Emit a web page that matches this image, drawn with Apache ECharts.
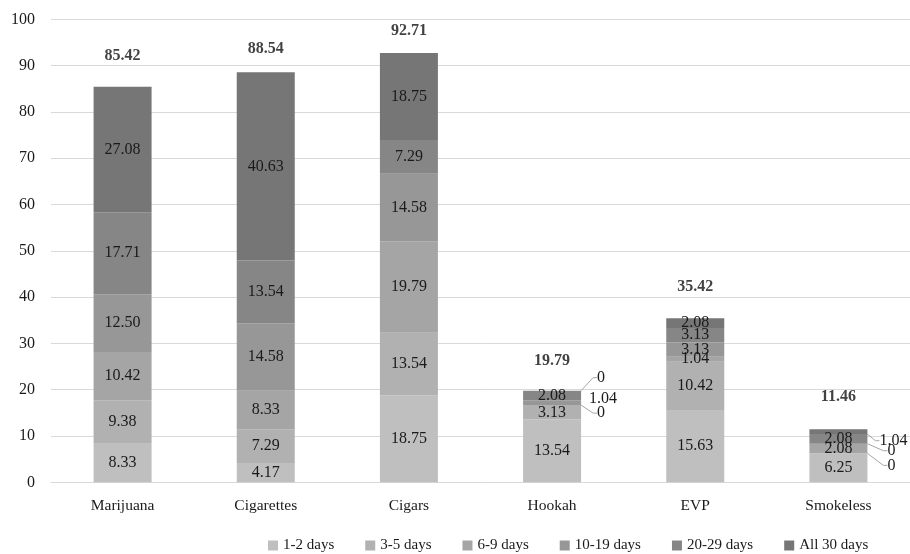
<!DOCTYPE html>
<html>
<head>
<meta charset="utf-8">
<script src="https://cdn.jsdelivr.net/npm/echarts@6/dist/echarts.min.js"></script>
<style>html,body{margin:0;padding:0;background:#fff}#c{width:910px;height:554px}</style>
</head>
<body>
<div id="c"></div>
<script>
var categories = ['Marijuana', 'Cigarettes', 'Cigars', 'Hookah', 'EVP', 'Smokeless'];
var seriesNames = ['1-2 days', '3-5 days', '6-9 days', '10-19 days', '20-29 days', 'All 30 days'];
var d12 = [8.33, 4.17, 18.75, 13.54, 15.63, 6.25];
var d35 = [9.38, 7.29, 13.54, 3.13, 10.42, 0];
var d69 = [10.42, 8.33, 19.79, 0, 1.04, 2.08];
var d1019 = [12.50, 14.58, 14.58, 1.04, 3.13, 0];
var d2029 = [17.71, 13.54, 7.29, 2.08, 3.13, 2.08];
var d30 = [27.08, 40.63, 18.75, 0, 2.08, 1.04];
var totals = [85.42, 88.54, 92.71, 19.79, 35.42, 11.46];
var yTicks = [0, 10, 20, 30, 40, 50, 60, 70, 80, 90, 100];

var seriesData = [d12, d35, d69, d1019, d2029, d30];
var colors = ['#bfbfbf', '#b1b1b1', '#a5a5a5', '#979797', '#868686', '#767676'];
// label placement for small segments drawn outside the bar (layout only)
var outside = {
  '5-3': {dx: 12, dy: -13, line: true},
  '3-3': {dx: 4, dy: -4, line: false},
  '2-3': {dx: 12, dy: 8, line: true},
  '5-5': {dx: 8, dy: 9, line: true},
  '3-5': {dx: 16, dy: 7, line: true},
  '1-5': {dx: 16, dy: 12, line: true}
};
var totalGap = [23, 16, 14, 22, 23, 24];
var font = 'Liberation Serif';

function fmt(v) { return v === 0 ? '0' : v.toFixed(2); }

var series = seriesData.map(function (arr, si) {
  return {
    name: seriesNames[si],
    type: 'bar',
    stack: 'all',
    barWidth: 58,
    itemStyle: {color: colors[si]},
    label: {
      show: true, position: 'inside', fontFamily: font, fontSize: 16, color: '#1a1a1a',
      formatter: function (p) { return fmt(p.value); }
    },
    labelLine: {show: true, lineStyle: {color: '#a6a6a6', width: 1}},
    data: arr.map(function (v, ci) {
      var o = outside[si + '-' + ci];
      if (o) {
        return {value: v, label: {position: 'right', distance: 4}, labelLine: {show: o.line, length2: 4}};
      }
      return {value: v, labelLine: {show: false}};
    }),
    labelLayout: function (p) {
      var o = outside[p.seriesIndex + '-' + p.dataIndex];
      if (o) return {dx: o.dx, dy: o.dy};
      return {};
    }
  };
});

series.push({
  name: 'total',
  type: 'scatter',
  symbolSize: 0,
  silent: true,
  z: 5,
  data: totals.map(function (v, i) {
    return {value: v, label: {distance: totalGap[i]}};
  }),
  label: {
    show: true, position: 'top', fontFamily: font, fontSize: 16, fontWeight: 'bold', color: '#111',
    formatter: function (p) { return p.value.toFixed(2); }
  }
});

var chart = echarts.init(document.getElementById('c'), null, {renderer: 'canvas'});
chart.setOption({
  animation: false,
  backgroundColor: '#fff',
  textStyle: {fontFamily: font},
  grid: {left: 51, top: 19.3, width: 865, height: 463},
  legend: {
    data: seriesNames,
    bottom: -4,
    left: 263,
    icon: 'rect',
    itemWidth: 10,
    itemHeight: 10,
    itemGap: 31,
    textStyle: {fontFamily: font, fontSize: 15, color: '#1a1a1a'}
  },
  xAxis: {
    type: 'category',
    data: categories,
    axisLine: {lineStyle: {color: '#d9d9d9', width: 1}},
    axisTick: {show: false},
    axisLabel: {fontFamily: font, fontSize: 15.5, color: '#1a1a1a', margin: 16}
  },
  yAxis: {
    type: 'value',
    min: yTicks[0],
    max: yTicks[yTicks.length - 1],
    interval: yTicks[1] - yTicks[0],
    axisLine: {show: false},
    axisTick: {show: false},
    splitLine: {lineStyle: {color: '#d9d9d9', width: 1}},
    axisLabel: {fontFamily: font, fontSize: 16, color: '#1a1a1a', margin: 16}
  },
  series: series
});
</script>
</body>
</html>
